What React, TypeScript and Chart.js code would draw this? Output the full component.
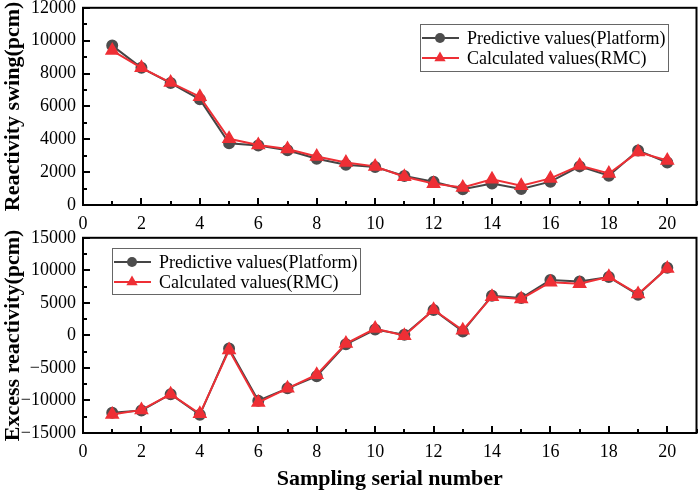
import React, { useEffect, useRef } from 'react';
import { Chart, registerables } from 'chart.js';

Chart.register(...registerables);

const samples = [1, 2, 3, 4, 5, 6, 7, 8, 9, 10, 11, 12, 13, 14, 15, 16, 17, 18, 19, 20];
const seriesNames = ['Predictive values(Platform)', 'Calculated values(RMC)'];

const swingPlatform = [9700, 8350, 7420, 6430, 3760, 3620, 3330, 2820, 2450, 2310, 1770, 1410, 960, 1310, 980, 1420, 2350, 1780, 3320, 2580];
const swingRMC = [9400, 8350, 7450, 6590, 4030, 3650, 3410, 2950, 2580, 2350, 1720, 1300, 1060, 1560, 1170, 1620, 2400, 1920, 3220, 2710];

const excessPlatform = [-11900, -11550, -9040, -12200, -2020, -10050, -8130, -6280, -1360, 900, 100, 3900, 600, 6100, 5750, 8530, 8280, 8960, 6240, 10390];
const excessRMC = [-12150, -11450, -9040, -12050, -2260, -10300, -8130, -6030, -1250, 1050, -50, 3950, 800, 5950, 5600, 8180, 7930, 9000, 6350, 10290];

const SERIF = '"Liberation Serif", "Times New Roman", serif';
const DARK = '#454545';
const DARK_FILL = '#4d4d4d';
const RED = '#ee2f35';

function line(ctx: CanvasRenderingContext2D, x1: number, y1: number, x2: number, y2: number) {
  ctx.beginPath();
  ctx.moveTo(x1, y1);
  ctx.lineTo(x2, y2);
  ctx.stroke();
}

const decorPlugin = {
  id: 'decor',
  afterDraw(chart: any, _args: any, opts: any) {
    const { ctx, chartArea: a, scales } = chart;
    ctx.save();
    ctx.strokeStyle = '#000';
    ctx.lineWidth = 2;
    ctx.strokeRect(a.left, a.top, a.right - a.left, a.bottom - a.top);
    ctx.lineWidth = 2;
    const xs = scales.x;
    xs.ticks.forEach((t: any) => {
      const px = Math.round(xs.getPixelForValue(t.value));
      const len = t.value % opts.xMajor === 0 ? 7 : 4;
      line(ctx, px, a.bottom, px, a.bottom - len);
    });
    const ys = scales.y;
    ys.ticks.forEach((t: any) => {
      const py = Math.round(ys.getPixelForValue(t.value));
      const len = t.value % opts.yMajor === 0 ? 7 : 4;
      line(ctx, a.left, py, a.left + len, py);
    });
    const L = opts.legend;
    ctx.fillStyle = '#fff';
    ctx.fillRect(L.left, L.top, L.width, L.height);
    ctx.lineWidth = 1;
    ctx.strokeStyle = '#666';
    ctx.strokeRect(L.left + 0.5, L.top + 0.5, L.width, L.height);
    chart.data.datasets.forEach((ds: any, i: number) => {
      const cy = L.top + 14 + i * 20;
      ctx.strokeStyle = ds.borderColor;
      ctx.lineWidth = 2;
      line(ctx, L.left + 2, cy, L.left + 39, cy);
      const cx = L.left + 20;
      ctx.fillStyle = ds.pointBackgroundColor;
      ctx.beginPath();
      if (ds.pointStyle === 'triangle') {
        const r = ds.pointRadius;
        ctx.moveTo(cx, cy - r);
        ctx.lineTo(cx + r * Math.sin((2 * Math.PI) / 3), cy - r * Math.cos((2 * Math.PI) / 3));
        ctx.lineTo(cx + r * Math.sin((4 * Math.PI) / 3), cy - r * Math.cos((4 * Math.PI) / 3));
        ctx.closePath();
      } else {
        ctx.arc(cx, cy, ds.pointRadius, 0, Math.PI * 2);
      }
      ctx.fill();
      ctx.fillStyle = '#000';
      ctx.font = '18px ' + SERIF;
      ctx.textBaseline = 'middle';
      ctx.textAlign = 'left';
      ctx.fillText(ds.label, L.left + 47, cy + 1);
    });
    ctx.restore();
  },
};

function fmt(v: number) {
  return v < 0 ? '\u2212' + String(-v) : String(v);
}

function buildConfig(p: {
  platform: number[];
  rmc: number[];
  yMin: number;
  yMax: number;
  yStep: number;
  yMajor: number;
  yTitle: string;
  xTitle: string;
  xAxisHeight: number;
  padTop: number;
  legend: { left: number; top: number; width: number; height: number };
}): any {
  return {
    type: 'line',
    data: {
      datasets: [
        {
          label: seriesNames[0],
          data: samples.map((x, i) => ({ x, y: p.platform[i] })),
          borderColor: DARK,
          backgroundColor: DARK_FILL,
          pointBackgroundColor: DARK_FILL,
          pointBorderColor: DARK_FILL,
          pointStyle: 'circle',
          pointRadius: 5,
          borderWidth: 2,
          order: 1,
        },
        {
          label: seriesNames[1],
          data: samples.map((x, i) => ({ x, y: p.rmc[i] })),
          borderColor: RED,
          backgroundColor: RED,
          pointBackgroundColor: RED,
          pointBorderColor: RED,
          pointStyle: 'triangle',
          pointRadius: 6.5,
          borderWidth: 2,
          order: 0,
        },
      ],
    },
    options: {
      animation: false,
      responsive: true,
      maintainAspectRatio: false,
      layout: { padding: { left: 0, right: 3, top: p.padTop, bottom: 0 } },
      plugins: {
        legend: { display: false },
        tooltip: { enabled: false },
        decor: { xMajor: 2, yMajor: p.yMajor, legend: p.legend },
      },
      scales: {
        x: {
          type: 'linear',
          min: 0,
          max: 21,
          afterFit: (s: any) => {
            s.height = p.xAxisHeight;
          },
          grid: { display: false, drawTicks: false },
          border: { display: false },
          ticks: {
            stepSize: 1,
            autoSkip: false,
            maxRotation: 0,
            padding: 8,
            color: '#000',
            font: { family: SERIF, size: 18 },
            callback: (v: number) => (v % 2 === 0 ? String(v) : ''),
          },
          title: {
            display: p.xTitle !== '',
            text: p.xTitle,
            color: '#000',
            font: { family: SERIF, size: 22, weight: 'bold' },
            padding: { top: 0, bottom: 1 },
          },
        },
        y: {
          min: p.yMin,
          max: p.yMax,
          afterFit: (s: any) => {
            s.width = 83;
          },
          grid: { display: false, drawTicks: false },
          border: { display: false },
          ticks: {
            stepSize: p.yStep,
            autoSkip: false,
            padding: 7,
            color: '#000',
            font: { family: SERIF, size: 18 },
            callback: (v: number) => (v % p.yMajor === 0 ? fmt(v) : ''),
          },
          title: {
            display: true,
            text: p.yTitle,
            color: '#000',
            font: { family: SERIF, size: 22, weight: 'bold' },
            padding: { top: 0, bottom: 0 },
          },
        },
      },
    },
    plugins: [decorPlugin],
  };
}

export default function App() {
  const topRef = useRef<HTMLCanvasElement>(null);
  const botRef = useRef<HTMLCanvasElement>(null);

  useEffect(() => {
    const c1 = new Chart(
      topRef.current!,
      buildConfig({
        platform: swingPlatform,
        rmc: swingRMC,
        yMin: 0,
        yMax: 12000,
        yStep: 1000,
        yMajor: 2000,
        yTitle: 'Reactivity swing(pcm)',
        xTitle: '',
        xAxisHeight: 27,
        padTop: 16,
        legend: { left: 420, top: 34, width: 248, height: 47 },
      })
    );
    const c2 = new Chart(
      botRef.current!,
      buildConfig({
        platform: excessPlatform,
        rmc: excessRMC,
        yMin: -15000,
        yMax: 15000,
        yStep: 2500,
        yMajor: 5000,
        yTitle: 'Excess reactivity(pcm)',
        xTitle: 'Sampling serial number',
        xAxisHeight: 61,
        padTop: 14,
        legend: { left: 112, top: 28, width: 248, height: 46 },
      })
    );
    return () => {
      c1.destroy();
      c2.destroy();
    };
  }, []);

  return (
    <div style={{ position: 'absolute', left: 0, top: 0, width: 699, height: 494, background: '#fff', overflow: 'hidden' }}>
      <div style={{ position: 'absolute', left: 0, top: -10, width: 705, height: 242 }}>
        <canvas ref={topRef} />
      </div>
      <div style={{ position: 'absolute', left: 0, top: 220, width: 705, height: 274 }}>
        <canvas ref={botRef} />
      </div>
    </div>
  );
}
